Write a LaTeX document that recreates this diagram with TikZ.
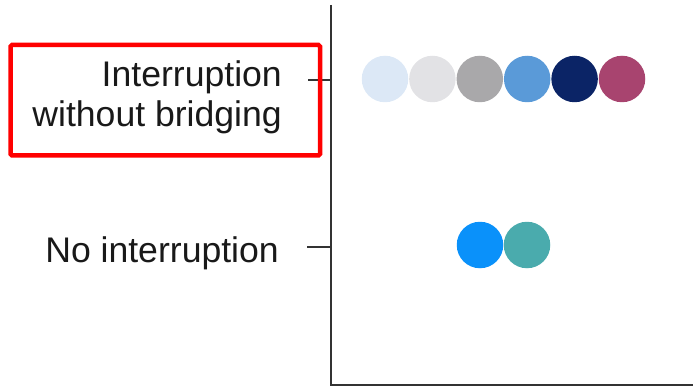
\documentclass[tikz,border=0pt]{standalone}
\usepackage{fontspec}
\setmainfont{Liberation Sans}
\usepackage{xcolor}
\usetikzlibrary{positioning}

\definecolor{paleblue}{HTML}{DCE8F6}
\definecolor{palegray}{HTML}{E2E2E5}
\definecolor{midgray}{HTML}{A9A8AA}
\definecolor{skyblue}{HTML}{5A9AD8}
\definecolor{navy}{HTML}{0B2466}
\definecolor{berry}{HTML}{A8446F}
\definecolor{brightblue}{HTML}{0A91FA}
\definecolor{teal}{HTML}{4AABAD}

\tikzset{
  dot/.style={circle, inner sep=0pt, minimum size=46.5pt},
  lbl/.style={align=right, inner sep=0pt, text=black!90,
    font=\fontsize{35.6}{40}\selectfont},
  axis/.style={line width=1.6pt, draw=black!80},
  redbox/.style={draw=red, line width=4.5pt, rounded corners=1.5pt},
}

\begin{document}
\begin{tikzpicture}[x=1pt,y=-1pt]
\useasboundingbox (0,0) rectangle (693,390);
%% axes
\coordinate (top) at (331,5);
\coordinate (origin) at (331,385);
\coordinate (right) at (693,385);
\draw[axis] (top) -- (origin) -- (right);
%% ticks
\coordinate (tickA) at (331,80);
\coordinate (tickAend) at (308,80);
\coordinate (tickB) at (331,247);
\coordinate (tickBend) at (307,247);
\draw[axis] (tickA) -- (tickAend);
\draw[axis] (tickB) -- (tickBend);
%% labels
\node[lbl, anchor=east] (labelA) at (282,97.5) {Interruption\\without bridging};
\node[lbl, anchor=base east] (labelB) at (279,262) {No interruption};
\draw[redbox] (10.5,45) rectangle (320,155.5);
%% dots
\foreach \c [count=\i] in {paleblue,palegray,midgray,skyblue,navy,berry}
  \node[dot, fill=\c] (a\i) at ({385+47.4*(\i-1)},79) {};
\foreach \c [count=\i] in {brightblue,teal}
  \node[dot, fill=\c] (b\i) at ({480+47*(\i-1)},245) {};

\end{tikzpicture}
\end{document}
